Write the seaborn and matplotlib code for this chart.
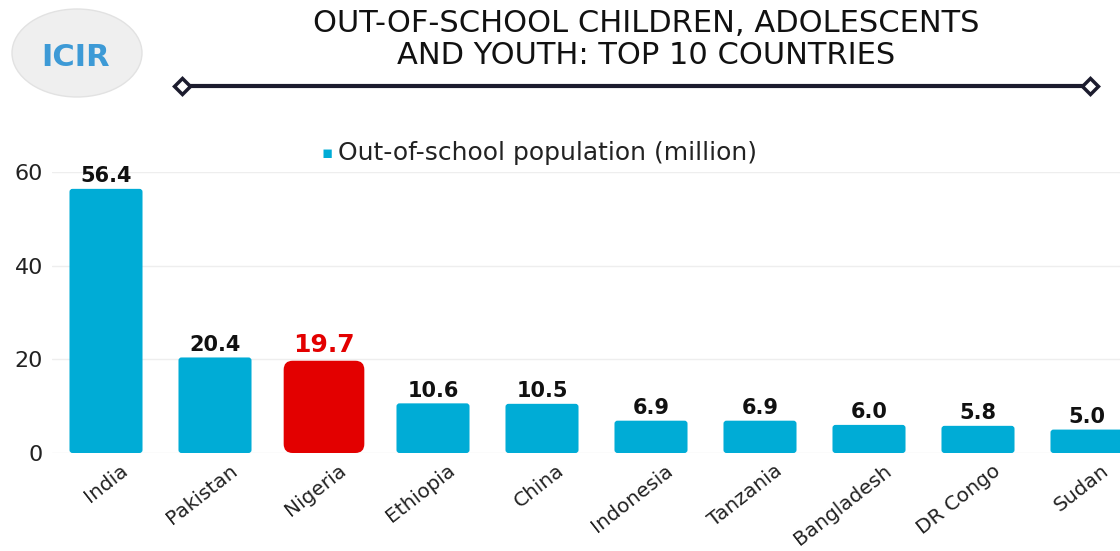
import seaborn as sns
import matplotlib.pyplot as plt
import matplotlib.transforms as mtransforms
from matplotlib.patches import Ellipse, FancyBboxPatch
from matplotlib.lines import Line2D
import pandas as pd

countries = ['India', 'Pakistan', 'Nigeria', 'Ethiopia', 'China',
             'Indonesia', 'Tanzania', 'Bangladesh', 'DR Congo', 'Sudan']
population = [56.4, 20.4, 19.7, 10.6, 10.5, 6.9, 6.9, 6.0, 5.8, 5.0]
highlight = 'Nigeria'
yticks = [0, 20, 40, 60]

blue = '#00acd6'
red = '#e30000'

sns.set_theme(style='white')
plt.rcParams['font.family'] = ['DejaVu Sans']

data = pd.DataFrame({'Country': countries, 'Population': population})
palette = {c: (red if c == highlight else blue) for c in countries}

fig = plt.figure(figsize=(11.2, 5.51), dpi=100)
ax = fig.add_axes([51.5 / 1120, 98 / 551, 1090 / 1120, 281 / 551])

sns.barplot(data=data, x='Country', y='Population', hue='Country',
            palette=palette, width=0.67, legend=False, ax=ax, saturation=1)

ax.set_xlim(-0.5, 9.5)
ax.set_ylim(0, 60)
ax.set_yticks(yticks)
ax.set_xlabel('')
ax.set_ylabel('')
for s in ax.spines.values():
    s.set_visible(False)
ax.yaxis.grid(True, color='#eeeeee', linewidth=1)
ax.set_axisbelow(True)
ax.tick_params(axis='both', length=0)
ax.tick_params(axis='y', labelsize=16, pad=6, labelcolor='#222222')

# rounded bars (geometry taken from seaborn's patches)
px_x = 1090 / 10.0
px_y = 281 / 60.0
for bar, c in zip(list(ax.patches), countries):
    x, y, w, h = bar.get_x(), bar.get_y(), bar.get_width(), bar.get_height()
    r_px = 9 if c == highlight else 3
    if c == highlight:
        x -= 0.035
        w += 0.07
    rs = r_px / px_x
    fb = FancyBboxPatch((x, y), w, h, boxstyle=f'round,pad=0,rounding_size={rs}',
                        mutation_aspect=px_x / px_y, facecolor=bar.get_facecolor(),
                        edgecolor='none', zorder=bar.get_zorder())
    ax.add_patch(fb)
    bar.set_visible(False)

offset = mtransforms.ScaledTranslation(0.14, -0.03, fig.dpi_scale_trans)
for lab in ax.get_xticklabels():
    lab.set_rotation(38)
    lab.set_ha('right')
    lab.set_va('top')
    lab.set_rotation_mode('anchor')
    lab.set_fontsize(14.5)
    lab.set_color('#222222')
    lab.set_transform(lab.get_transform() + offset)

for c, v, i in zip(countries, population, range(len(countries))):
    if c == highlight:
        ax.annotate(f'{v:.1f}', (i, v), xytext=(0, 3), textcoords='offset points',
                    ha='center', va='bottom', fontsize=18, fontweight='bold', color=red)
    else:
        ax.annotate(f'{v:.1f}', (i, v), xytext=(0, 2), textcoords='offset points',
                    ha='center', va='bottom', fontsize=15, fontweight='bold', color='#111111')

# legend
fig.text(327 / 1120, 1 - 153 / 551, '\u25aa', color=blue, fontsize=12, ha='center', va='center')
fig.text(338 / 1120, 1 - 153 / 551, 'Out-of-school population (million)', fontsize=18,
         color='#222222', ha='left', va='center')

# title
fig.text(646 / 1120, 1 - 24 / 551, 'OUT-OF-SCHOOL CHILDREN, ADOLESCENTS', fontsize=22,
         ha='center', va='center', color='#111111')
fig.text(646 / 1120, 1 - 56 / 551, 'AND YOUTH: TOP 10 COUNTRIES', fontsize=22,
         ha='center', va='center', color='#111111')

# decorative rule
yl = 1 - 86 / 551
fig.add_artist(Line2D([182 / 1120, 1090 / 1120], [yl, yl], color='#1c1c2e', linewidth=3,
                      transform=fig.transFigure))
fig.add_artist(Line2D([182 / 1120, 1090 / 1120], [yl, yl], linestyle='none', marker='D',
                      markersize=8, markerfacecolor='white', markeredgecolor='#1c1c2e',
                      markeredgewidth=2.5, transform=fig.transFigure))

# logo
fig.add_artist(Ellipse((77 / 1120, 1 - 53 / 551), 130 / 1120, 88 / 551,
                       facecolor='#efefef', edgecolor='#e2e2e2', transform=fig.transFigure))
fig.text(76 / 1120, 1 - 57 / 551, 'ICIR', fontsize=22, fontweight='bold', color='#3d9ad6',
         ha='center', va='center')

fig.savefig('out.png', dpi=100)
